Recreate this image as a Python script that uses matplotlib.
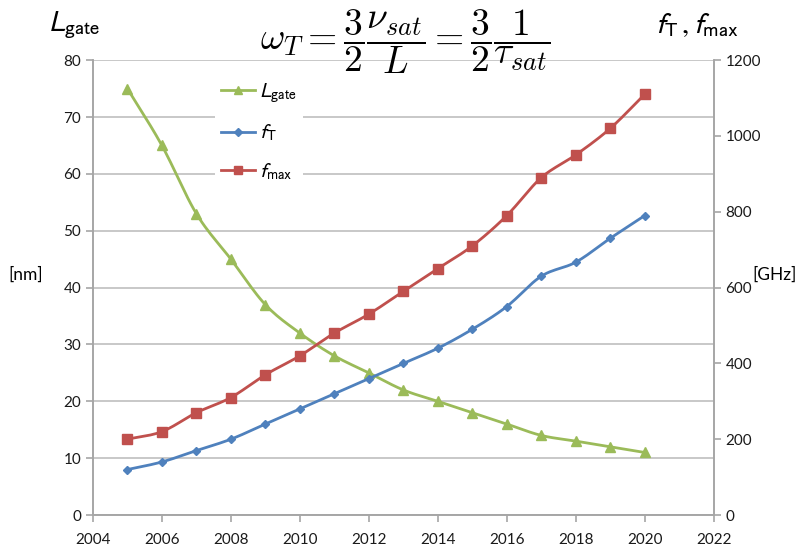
import numpy as np
import matplotlib; matplotlib.use('Agg')
import matplotlib.pyplot as plt
from matplotlib.lines import Line2D

plt.rcParams['font.family'] = ['Lato', 'DejaVu Sans']
plt.rcParams['mathtext.fontset'] = 'stixsans'

# ── data ──
years = [2005, 2006, 2007, 2008, 2009, 2010, 2011, 2012,
         2013, 2014, 2015, 2016, 2017, 2018, 2019, 2020]
l_gate = [75, 65, 53, 45, 37, 32, 28, 25, 22, 20, 18, 16, 14, 13, 12, 11]        # nm
f_t = [120, 140, 170, 200, 240, 280, 320, 360,
       400, 440, 490, 550, 630, 667, 730, 790]                                     # GHz
f_max = [200, 220, 270, 310, 370, 420, 480, 530,
         590, 650, 710, 790, 890, 950, 1020, 1110]                                 # GHz
x_ticks = list(range(2004, 2023, 2))
left_ticks = list(range(0, 81, 10))
right_ticks = list(range(0, 1201, 200))

GREEN, BLUE, RED = '#9BBB59', '#4F81BD', '#C0504D'
GRID = '#BFBFBF'


def smooth(xs, ys, n=12):
    # Catmull-Rom, like Excel's smoothed line
    x = np.asarray(xs, float); y = np.asarray(ys, float)
    px = np.concatenate([[2 * x[0] - x[1]], x, [2 * x[-1] - x[-2]]])
    py = np.concatenate([[2 * y[0] - y[1]], y, [2 * y[-1] - y[-2]]])
    ox, oy = [], []
    t = np.linspace(0, 1, n, endpoint=False)
    for i in range(1, len(px) - 2):
        for p, o in ((px, ox), (py, oy)):
            p0, p1, p2, p3 = p[i - 1], p[i], p[i + 1], p[i + 2]
            o.extend(0.5 * (2 * p1 + (-p0 + p2) * t
                            + (2 * p0 - 5 * p1 + 4 * p2 - p3) * t ** 2
                            + (-p0 + 3 * p1 - 3 * p2 + p3) * t ** 3))
    ox.append(x[-1]); oy.append(y[-1])
    return ox, oy


fig = plt.figure(figsize=(8.01, 5.5), dpi=100)
ax = fig.add_axes([0.116, 0.0636, 0.775, 0.827])
ax2 = ax.twinx()

# gridlines
ax.set_axisbelow(True)
ax.yaxis.grid(True, color=GRID, lw=1.2)

ax.plot(*smooth(years, l_gate), color=GREEN, lw=2, zorder=3)
ax.plot(years, l_gate, ls='none', marker='^', ms=7, color=GREEN, zorder=4)
ax2.plot(*smooth(years, f_t), color=BLUE, lw=2, zorder=3)
ax2.plot(years, f_t, ls='none', marker='D', ms=4.5, color=BLUE, zorder=4)
ax2.plot(*smooth(years, f_max), color=RED, lw=2, zorder=3)
ax2.plot(years, f_max, ls='none', marker='s', ms=6.5, color=RED, zorder=4)

ax.set_xlim(2004, 2022)
ax.set_ylim(0, 80)
ax2.set_ylim(0, 1200)
ax.set_xticks(x_ticks)
ax.set_yticks(left_ticks)
ax2.set_yticks(right_ticks)

for a in (ax, ax2):
    for s in a.spines.values():
        s.set_color('#A6A6A6')
        s.set_linewidth(1.2)
    a.spines['top'].set_visible(False)
    a.tick_params(colors='#A6A6A6', labelcolor='#1a1a1a', labelsize=11,
                  length=5, width=1.2, direction='out')
ax.tick_params(axis='x', pad=8)

handles = [
    Line2D([], [], color=GREEN, lw=2, marker='^', ms=6),
    Line2D([], [], color=BLUE, lw=2, marker='D', ms=4),
    Line2D([], [], color=RED, lw=2, marker='s', ms=6),
]
labels = [r'$L_{\mathrm{gate}}$', r'$f_{\mathrm{T}}$', r'$f_{\mathrm{max}}$']
leg = ax.legend(handles, labels, loc='upper left', bbox_to_anchor=(0.18, 0.99),
                frameon=True, facecolor='white', edgecolor='none', framealpha=1,
                fontsize=15, labelspacing=0.85, handlelength=1.6, handletextpad=0.2,
                borderpad=0.3)
leg.set_zorder(5)

# axis titles and formula
fig.text(0.06, 0.955, r'$L_{\mathrm{gate}}$', fontsize=21, ha='left', va='center')
fig.text(0.818, 0.955, r'$f_{\mathrm{T}}\,,f_{\mathrm{max}}$', fontsize=21,
         ha='left', va='center')
fig.text(0.032, 0.5, '[nm]', fontsize=12.5, ha='center', va='center')
fig.text(0.967, 0.5, '[GHz]', fontsize=12.5, ha='center', va='center')
fig.text(0.506, 0.925,
         r'$\omega_T = \dfrac{3}{2}\dfrac{\nu_{sat}}{L} = \dfrac{3}{2}\dfrac{1}{\tau_{sat}}$',
         fontsize=27, ha='center', va='center', zorder=10, math_fontfamily='cm')

fig.savefig('out.png', dpi=100)
